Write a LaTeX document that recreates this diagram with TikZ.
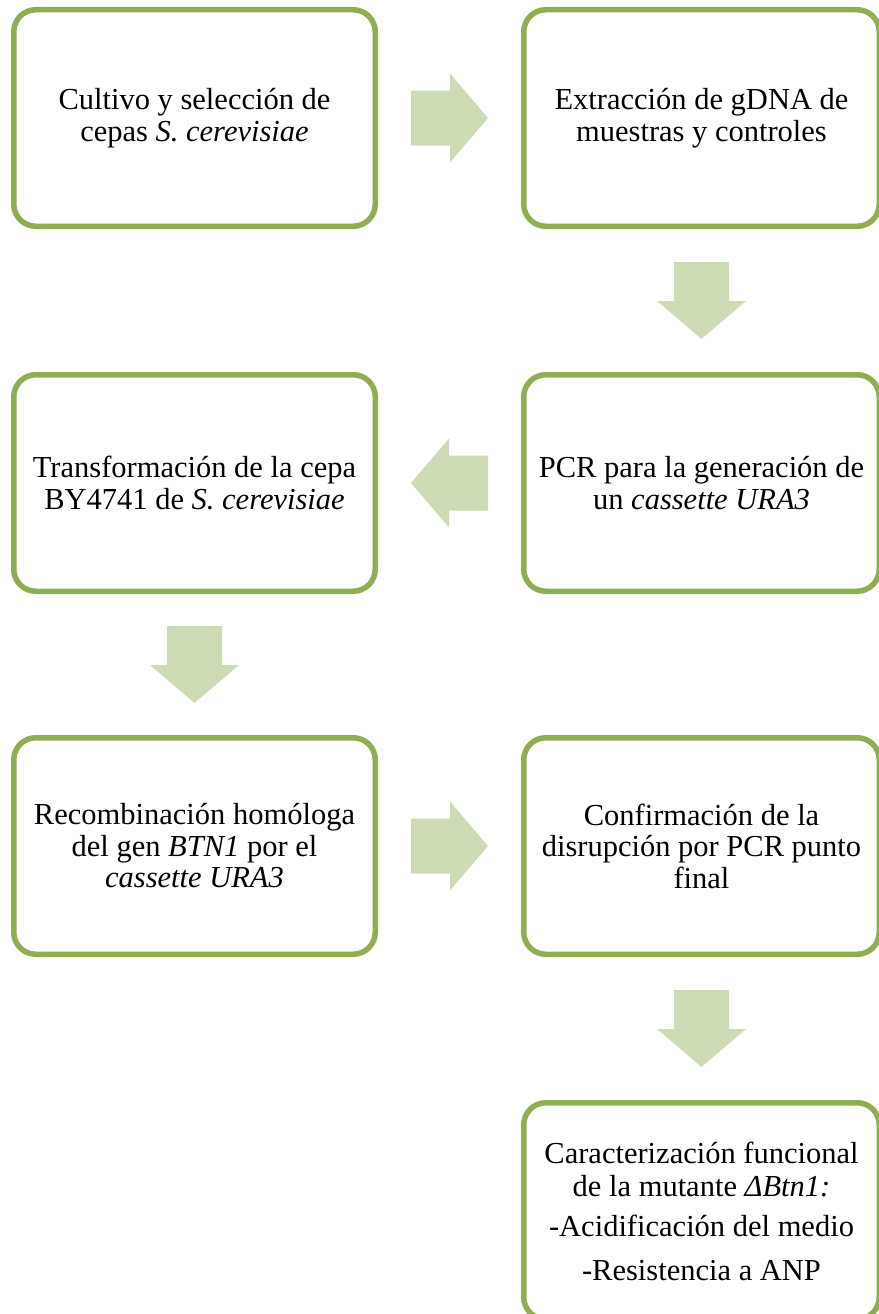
\documentclass[tikz,border=0pt]{standalone}
\usepackage{fontspec}
\setmainfont{Liberation Serif}
\usetikzlibrary{positioning,calc}
\definecolor{verdeborde}{RGB}{143,174,82}
\definecolor{verdeflecha}{RGB}{205,219,181}

\begin{document}
\begin{tikzpicture}[x=1pt, y=-1pt,
    paso/.style={draw=verdeborde, line width=5.5pt, rounded corners=22pt, fill=white,
        minimum width=361.5pt, minimum height=216.5pt, inner sep=0pt, align=center,
        font=\fontsize{30.5}{31.5}\selectfont},
    pasoder/.style={paso, minimum width=355.5pt},
    flecha/.pic={\fill[verdeflecha] (-38.5,-27.5) -- (0.5,-27.5) -- (0.5,-44.5) -- (38.5,0)
        -- (0.5,44.5) -- (0.5,27.5) -- (-38.5,27.5) -- cycle;}]
    \useasboundingbox (0,0) rectangle (878,1314);

    % Primera fila
    \node[paso] (cultivo) at (194.5,118) {Cultivo y selección de\\ cepas \textit{S. cerevisiae}};
    \node[pasoder] (extraccion) at (701.5,118) {Extracción de gDNA de\\ muestras y controles};

    % Segunda fila
    \node[pasoder] (pcr) at (701.5,483) {PCR para la generación de\\ un \textit{cassette URA3}};
    \node[paso] (transf) at (194.5,483) {Transformación de la cepa\\ BY4741 de \textit{S. cerevisiae}};

    % Tercera fila
    \node[paso] (recomb) at (194.5,846) {Recombinación homóloga\\ del gen \textit{BTN1} por el\\ \textit{cassette URA3}};
    \node[pasoder] (confirm) at (701.5,846) {Confirmación de la\\ disrupción por PCR punto\\ final};

    % Caracterizacion
    \node[pasoder, font=\fontsize{30.5}{33}\selectfont] (caract) at (701.5,1211)
        {Caracterización funcional\\ de la mutante \textit{ΔBtn1:}\\[7pt]
        -Acidificación del medio\\[11pt] -Resistencia a ANP};

    % Flechas
    \pic at ($(cultivo.east)!0.5!(extraccion.west)$) {flecha};
    \pic[rotate=-90] at ($(extraccion.south)!0.5!(pcr.north)$) {flecha};
    \pic[rotate=180] at ($(pcr.west)!0.5!(transf.east)$) {flecha};
    \pic[rotate=-90] at ($(transf.south)!0.5!(recomb.north)$) {flecha};
    \pic at ($(recomb.east)!0.5!(confirm.west)$) {flecha};
    \pic[rotate=-90] at ($(confirm.south)!0.5!(caract.north)$) {flecha};
\end{tikzpicture}
\end{document}
